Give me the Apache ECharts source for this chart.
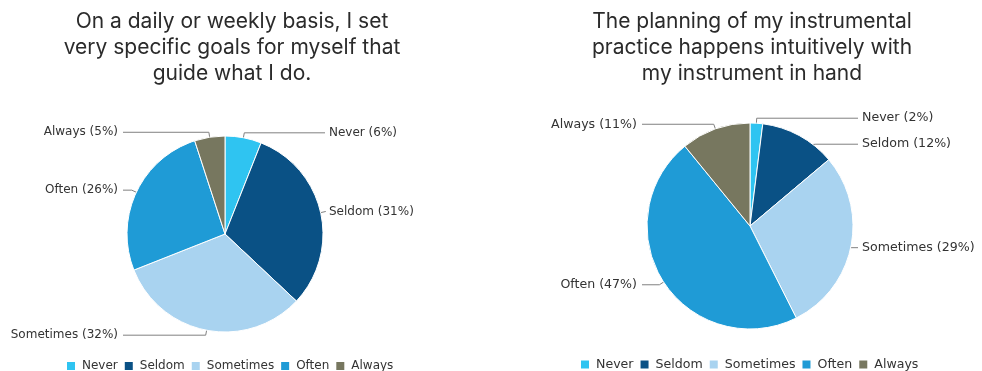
<!DOCTYPE html>
<html>
<head>
<meta charset="utf-8">
<title>Practice planning survey</title>
<script src="https://cdn.jsdelivr.net/npm/echarts@6/dist/echarts.min.js"></script>
<style>
  html, body { margin: 0; padding: 0; background: #ffffff; }
  #chart { width: 982px; height: 371px; }
</style>
</head>
<body>
<div id="chart"></div>
<script>
// Answer categories shared by both questions
const categories = ['Never', 'Seldom', 'Sometimes', 'Often', 'Always'];

// Percentages of respondents per answer
const goalsValues = [6, 31, 32, 26, 5];
const intuitiveValues = [2, 12, 29, 47, 11];

// Question titles
const goalsTitle = 'On a daily or weekly basis, I set\nvery specific goals for myself that\nguide what I do.';
const intuitiveTitle = 'The planning of my instrumental\npractice happens intuitively with\nmy instrument in hand';

const palette = ['#2fc4f1', '#0a5185', '#a9d3f0', '#1f9bd6', '#77775f'];

const labelFont = '"DejaVu Sans"';

// Places outside labels in two aligned columns; leader lines start a little inside the slice
function columnLayout(cx, cy, r, leftCol, rightCol) {
  return function (params) {
    const pts = params.labelLinePoints;
    if (!pts) return {};
    const dx = pts[0][0] - cx;
    const dy = pts[0][1] - cy;
    const d = Math.hypot(dx, dy) || 1;
    const s = (r - 12) / d;
    const start = [cx + dx * s, cy + dy * s];
    const isLeft = pts[2][0] < cx;
    const col = isLeft ? leftCol : rightCol;
    const y = pts[2][1];
    return {
      x: isLeft ? col - 5 : col + 4,
      y: y,
      align: isLeft ? 'right' : 'left',
      verticalAlign: 'middle',
      labelLinePoints: [start, [pts[1][0], y], [col, y]]
    };
  };
}

function pieSeries(name, values, cx, cy, r, leftCol, rightCol, fontSize, lineHeight) {
  return {
    name: name,
    type: 'pie',
    center: [cx, cy],
    radius: r,
    startAngle: 90,
    clockwise: true,
    animation: false,
    silent: true,
    itemStyle: { borderColor: '#ffffff', borderWidth: 1 },
    label: {
      show: true,
      position: 'outside',
      formatter: '{b} ({c}%)',
      fontFamily: labelFont,
      fontSize: fontSize,
      lineHeight: lineHeight,
      width: 130,
      overflow: 'none',
      color: '#333333'
    },
    labelLine: {
      show: true,
      length: 5,
      length2: 10,
      smooth: false,
      lineStyle: { color: '#808080', width: 1 }
    },
    labelLayout: columnLayout(cx, cy, r, leftCol, rightCol),
    data: categories.map((c, i) => ({ name: c, value: values[i] }))
  };
}

function legendAt(left, top, fontSize) {
  return {
    data: categories,
    orient: 'horizontal',
    left: left,
    top: top,
    padding: 0,
    itemWidth: 10,
    itemHeight: 10,
    itemGap: 5,
    icon: 'rect',
    selectedMode: false,
    textStyle: { fontFamily: labelFont, fontSize: fontSize, color: '#333333', padding: [0, 0, 0, 1] }
  };
}

const chart = echarts.init(document.getElementById('chart'), null, { renderer: 'canvas' });

chart.setOption({
  backgroundColor: '#ffffff',
  color: palette,
  graphic: [
    {
      type: 'text', x: 232, y: 9,
      style: {
        text: goalsTitle, textAlign: 'center',
        fontFamily: 'Inter', fontSize: 21, lineHeight: 26,
        fill: '#2b2b2b'
      }
    },
    {
      type: 'text', x: 752, y: 9,
      style: {
        text: intuitiveTitle, textAlign: 'center',
        fontFamily: 'Inter', fontSize: 21, lineHeight: 26,
        fill: '#2b2b2b'
      }
    }
  ],
  legend: [
    legendAt(65, 360, 12),
    legendAt(579, 358, 12.6)
  ],
  series: [
    pieSeries('goals', goalsValues, 225, 234, 98, 123, 325, 12, 15),
    pieSeries('intuitive', intuitiveValues, 750, 226, 103, 642, 858, 12.6, 24)
  ]
});
</script>
</body>
</html>
